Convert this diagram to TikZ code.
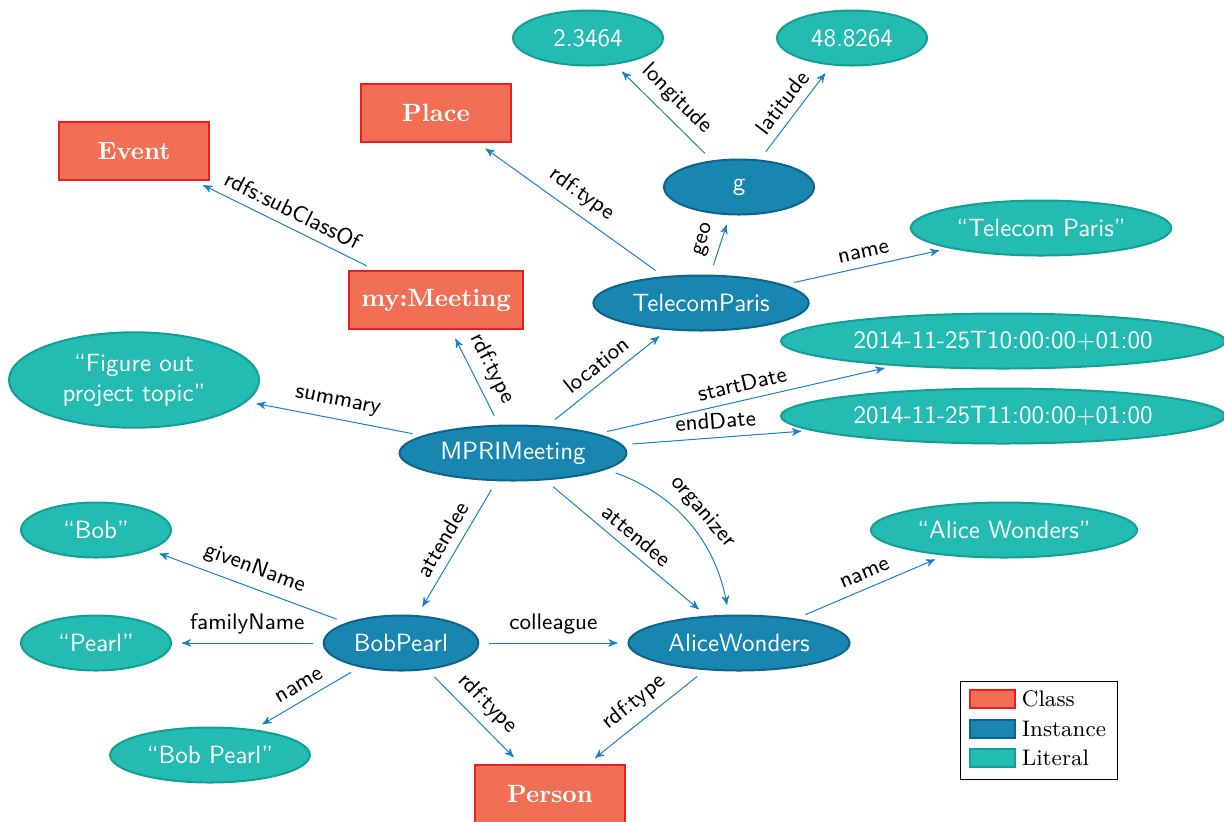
\documentclass[tikz,border=0pt]{standalone}
\usepackage{amsmath}
\usepackage{tikz}
\usetikzlibrary{arrows,shapes.geometric}
\definecolor{classfill}{RGB}{241,112,85}
\definecolor{classdraw}{RGB}{236,30,36}
\definecolor{instfill}{RGB}{24,134,176}
\definecolor{instdraw}{RGB}{14,100,140}
\definecolor{litfill}{RGB}{35,187,178}
\definecolor{litdraw}{RGB}{18,160,150}
\definecolor{edgeblue}{RGB}{25,128,200}
\tikzset{class/.style = {rectangle,draw=classdraw,fill=classfill,thick,text=white,font=\bfseries,minimum width=60pt,minimum height=23pt,inner xsep=5pt}}
\tikzset{instance/.style = {ellipse,draw=instdraw,fill=instfill,thick,text=white,font=\sffamily,minimum width=60pt,minimum height=22pt,inner sep=3pt}}
\tikzset{literal/.style = {ellipse,draw=litdraw,fill=litfill,thick,text=white,font=\sffamily,minimum width=60pt,minimum height=22pt,inner sep=3pt,align=center}}
\tikzset{edge/.style = {->,> = stealth',draw=edgeblue,shorten >=4pt,shorten <=4pt}}
\tikzset{lbl/.style = {font=\sffamily\small,sloped,above,midway}}
\tikzset{key/.style = {rectangle,thick,minimum width=18pt,minimum height=7.5pt,inner sep=0pt}}

\begin{document}
\begin{tikzpicture}[x=0.4pt,y=-0.4pt]
		\useasboundingbox (0,0) rectangle (1224,821);
		% classes
		\node[class] (event) at (134,151) {Event};
		\node[class] (place) at (436,113) {Place};
		\node[class] (meeting) at (436,300) {my:Meeting};
		\node[class] (person) at (550,794) {Person};

		% instances
		\node[instance] (g) at (739,187) {g};
		\node[instance] (telecom) at (701,303) {TelecomParis};
		\node[instance] (mpri) at (513,453) {MPRIMeeting};
		\node[instance] (bob) at (401,643) {BobPearl};
		\node[instance] (alice) at (739,643) {AliceWonders};

		% literals
		\node[literal] (lon) at (588,38) {2.3464};
		\node[literal] (lat) at (852,38) {48.8264};
		\node[literal] (tpname) at (1041,228) {``Telecom Paris''};
		\node[literal] (start) at (1003,341) {2014-11-25T10:00:00+01:00};
		\node[literal] (end) at (1003,416) {2014-11-25T11:00:00+01:00};
		\node[literal,minimum width=100pt] (topic) at (134,380) {``Figure out\\project topic''};
		\node[literal] (given) at (96,530) {``Bob''};
		\node[literal] (family) at (96,643) {``Pearl''};
		\node[literal] (bobname) at (210,755) {``Bob Pearl''};
		\node[literal] (alicename) at (1004,530) {``Alice Wonders''};

		% edges
		\draw[edge] (meeting) to node[lbl] {rdfs:subClassOf} (event);
		\draw[edge] (telecom) to node[lbl] {rdf:type} (place);
		\draw[edge] (telecom) to node[lbl] {geo} (g);
		\draw[edge] (g) to node[lbl] {longitude} (lon);
		\draw[edge] (g) to node[lbl] {latitude} (lat);
		\draw[edge] (telecom) to node[lbl] {name} (tpname);
		\draw[edge] (mpri) to node[lbl] {rdf:type} (meeting);
		\draw[edge] (mpri) to node[lbl] {location} (telecom);
		\draw[edge] (mpri) to node[lbl] {startDate} (start);
		\draw[edge] (mpri) to node[lbl] {endDate} (end);
		\draw[edge] (mpri) to node[lbl] {summary} (topic);
		\draw[edge] (mpri) to node[lbl] {attendee} (bob);
		\draw[edge] (mpri) to node[lbl] {attendee} (alice);
		\draw[edge] (mpri) to[bend left] node[lbl] {organizer} (alice);
		\draw[edge] (bob) to node[lbl] {givenName} (given);
		\draw[edge] (bob) to node[lbl] {familyName} (family);
		\draw[edge] (bob) to node[lbl] {name} (bobname);
		\draw[edge] (bob) to node[lbl] {colleague} (alice);
		\draw[edge] (bob) to node[lbl] {rdf:type} (person);
		\draw[edge] (alice) to node[lbl] {rdf:type} (person);
		\draw[edge] (alice) to node[lbl] {name} (alicename);

		% legend
		\draw (960,681) rectangle (1117,779);
		\node[key,draw=classdraw,fill=classfill] (kclass) at (992,699) {};
		\node[key,draw=instdraw,fill=instfill] (kinst) at (992,729) {};
		\node[key,draw=litdraw,fill=litfill] (klit) at (992,758) {};
		\node[right=-1pt,font=\small] (tclass) at (kclass.east) {Class};
		\node[right=-1pt,font=\small] (tinst) at (kinst.east) {Instance};
		\node[right=-1pt,font=\small] (tlit) at (klit.east) {Literal};
	\end{tikzpicture}
\end{document}
